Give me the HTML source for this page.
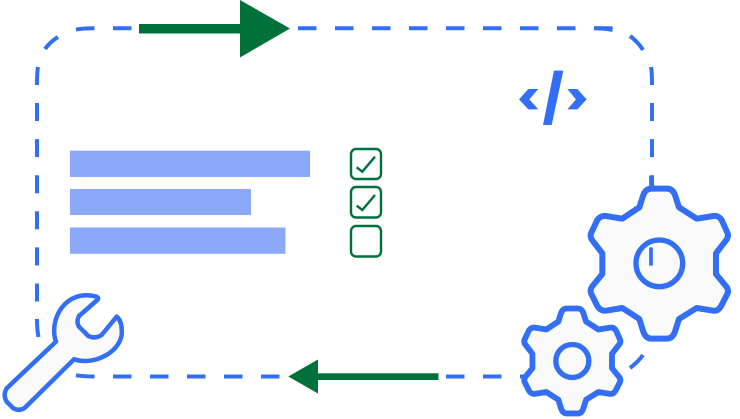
<!DOCTYPE html>
<html>
<head>
<meta charset="utf-8">
<style>
html,body{margin:0;padding:0;background:#fff;width:740px;height:419px;overflow:hidden}
svg{display:block}
</style>
</head>
<body>
<svg width="740" height="419" viewBox="0 0 740 419" xmlns="http://www.w3.org/2000/svg">
  <!-- dashed frame -->
  <g fill="none" stroke="#336EF7" stroke-width="4">
    <path d="M76 29.500Q84 28.300 94.500 28.300M113 28.300H131.500"/>
    <path d="M298 28.300H612.500" stroke-dasharray="18.500 18.500"/>
    <path d="M594 28.300Q604 28.300 612.500 30"/>
    <path d="M45 49Q50 42 58 37"/>
    <path d="M630 36Q638 42 643 50"/>
    <path d="M38 67Q37 72 37 85"/>
    <path d="M651 67Q652 72 652 85"/>
    <path d="M37 103V302" stroke-dasharray="18 18.100"/>
    <path d="M652 103V265" stroke-dasharray="18 18.100"/>
    <path d="M37 319Q37 330 38.500 337"/>
    <path d="M76 375.300Q84 376.500 94.500 376.500M113 376.500H131.500"/>
    <path d="M150 376.500H279.500" stroke-dasharray="18.500 18.500"/>
    <path d="M446 376.500H527" stroke-dasharray="18.500 18.500"/>
    <path d="M630 368Q638 362 643 355"/>
  </g>

  <!-- green arrows -->
  <g fill="#00713A">
    <rect x="139" y="24" width="102" height="9.500"/>
    <polygon points="240,0 290,28.500 240,57.500"/>
    <rect x="317" y="373.300" width="121.500" height="6.700"/>
    <polygon points="288.300,376.500 318,359.500 318,393.500"/>
  </g>

  <!-- bars -->
  <g fill="#8BA8F9">
    <rect x="70" y="150.700" width="240" height="26.300"/>
    <rect x="70" y="189" width="181" height="26"/>
    <rect x="70" y="227.500" width="215.500" height="26.300"/>
  </g>

  <!-- checkboxes -->
  <g fill="none" stroke="#00713A" stroke-width="2.400">
    <rect x="351" y="149" width="30" height="30" rx="5"/>
    <rect x="351" y="187" width="30" height="30.500" rx="5"/>
    <rect x="351" y="226" width="30" height="30.500" rx="5"/>
    <path d="M356.700 167.300L362.300 171.700L375 156.700"/>
    <path d="M356.700 205.700L362.300 210L375 195"/>
  </g>

  <!-- code icon -->
  <g fill="#336EF7" transform="translate(500 20) scale(.3333)">
    <polygon points="115,207 85,207 57,238 85,268 115,268 88,238"/>
    <polygon points="202,207 232,207 260,238 232,268 202,268 228,238"/>
    <polygon points="162,152 190,152 155,315 129,315"/>
  </g>

  <!-- large gear -->
  <g transform="translate(500 170) scale(.3333)" fill="#FAFAFA" stroke="#336EF7" stroke-width="18" stroke-linejoin="round">
    <path d="M455 56H500Q518 56 525 75L537 112L590 146L640 138Q656 136 665 150L683 190Q687 203 675 215L648 250V312L675 345Q687 357 683 370L665 405Q656 424 640 422L590 414L537 447L525 485Q518 506 500 506H455Q437 506 430 485L418 447L367 414L318 422Q302 424 292 408L273 370Q269 357 280 345L307 312V250L280 215Q269 203 273 190L292 150Q302 136 318 138L367 146L418 112L430 75Q437 56 455 56Z"/>
    <circle cx="478" cy="280" r="70" fill="none" stroke-width="16"/>
    <path d="M453 17V50M453 232V287" fill="none" stroke-width="11" stroke-linejoin="miter"/>
  </g>

  <!-- small gear -->
  <g transform="translate(500 170) scale(.3333)" fill="#FAFAFA" stroke="#336EF7" stroke-linejoin="round">
    <path transform="translate(217 573) scale(.7) translate(-478 -281)" stroke-width="25" d="M455 56H500Q518 56 525 75L537 112L590 146L640 138Q656 136 665 150L683 190Q687 203 675 215L648 250V312L675 345Q687 357 683 370L665 405Q656 424 640 422L590 414L537 447L525 485Q518 506 500 506H455Q437 506 430 485L418 447L367 414L318 422Q302 424 292 408L273 370Q269 357 280 345L307 312V250L280 215Q269 203 273 190L292 150Q302 136 318 138L367 146L418 112L430 75Q437 56 455 56Z"/>
    <circle cx="217" cy="573" r="49.500" fill="none" stroke-width="16"/>
    <path d="M60 619H80" fill="none" stroke-width="11"/>
  </g>

  <!-- wrench -->
  <g transform="translate(0 280) scale(.3333)" fill="#FAFAFA" stroke="#336EF7" stroke-width="13.500" stroke-linejoin="round">
    <path d="M290 50Q298 55 292 60L237 108Q228 125 237 140L265 168Q285 178 305 165L350 110Q368 125 365 165C358 215 285 258 222 238L75 383Q60 395 40 385L20 365Q8 345 20 325L168 185C145 120 195 25 290 50Z"/>
  </g>
</svg>
</body>
</html>
